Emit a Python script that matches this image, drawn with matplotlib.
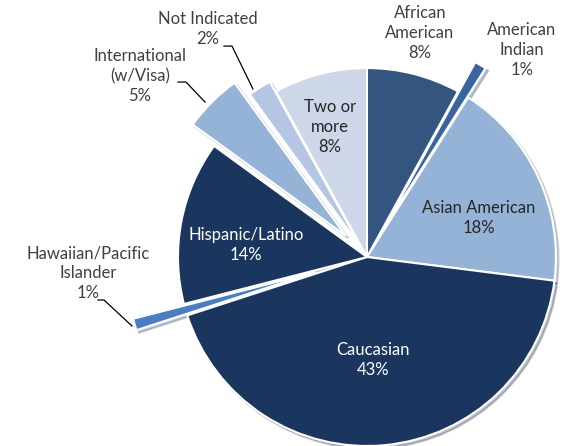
import matplotlib
matplotlib.use('Agg')
import matplotlib.pyplot as plt

plt.rcParams['font.family'] = ['Lato', 'DejaVu Sans']

# data, clockwise from 12 o'clock
categories = ['African\nAmerican', 'American\nIndian', 'Asian American', 'Caucasian',
              'Hawaiian/Pacific\nIslander', 'Hispanic/Latino', 'International\n(w/Visa)',
              'Not Indicated', 'Two or\nmore']
shares = [8, 1, 18, 43, 1, 14, 5, 2, 8]

colors = ['#34557F', '#3A64A0', '#95B3D7', '#1B365E', '#4A7EC1',
          '#1B365E', '#95B3D7', '#B4C6E3', '#CDD7E8']
explode = [0, 0.18, 0, 0, 0.28, 0, 0.16, 0.06, 0]

fig = plt.figure(figsize=(5.65, 4.46), dpi=100)
ax = fig.add_axes([0, 0, 1, 1])

wedges, _ = ax.pie(shares, colors=colors, explode=explode, startangle=90,
                   counterclock=False, radius=1.0,
                   wedgeprops=dict(edgecolor='white', linewidth=1.5),
                   shadow=dict(ox=0.01, oy=-0.01, shade=0.5, alpha=0.25))

ax.set_xlim(-1.942, 1.048)
ax.set_ylim(-1.0, 1.360)
ax.set_aspect('equal')
ax.axis('off')


def px(x, y):
    # pixel position in the picture -> data coords
    return ((x - 367) / 189.0, (257 - y) / 189.0)


fs = 12
dark = '#404040'
label_pos = [(420, 33, dark), (522, 50, dark), (479, 218, '#262626'), (373, 360, 'white'),
             (88, 273, dark), (246, 245, 'white'), (140, 76, dark), (208, 29, dark),
             (330, 127, '#262626')]
for cat, val, (x, y, c) in zip(categories, shares, label_pos):
    ax.text(*px(x, y), f'{cat}\n{val}%', ha='center', va='center', fontsize=fs,
            color=c, linespacing=1.3)

# leader lines
leaders = [
    [(224, 46), (232, 46), (253, 89)],   # Not Indicated
    [(178, 82), (186, 82), (205, 102)],  # International
    [(98, 300), (104, 300), (132, 326)], # Hawaiian
]
for pts in leaders:
    xs, ys = zip(*[px(a, b) for a, b in pts])
    ax.plot(xs, ys, color='black', linewidth=0.9)

fig.savefig('out.png', dpi=100)
